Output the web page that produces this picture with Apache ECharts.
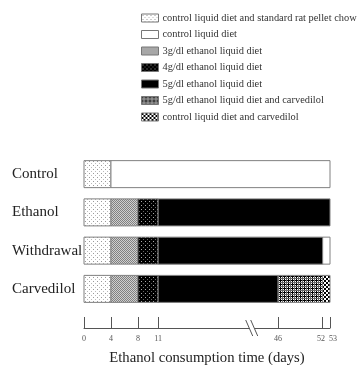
<!DOCTYPE html>
<html>
<head>
<meta charset="utf-8">
<script src="https://cdn.jsdelivr.net/npm/echarts@6/dist/echarts.min.js"></script>
<style>html,body{margin:0;padding:0;background:#fff}#c{width:357px;height:365px}</style>
</head>
<body>
<div id="c"></div>
<script>
// ---- data ----
const rows = ['Control', 'Ethanol', 'Withdrawal', 'Carvedilol'];
const treatments = [
  'control liquid diet and standard rat pellet chow',
  'control liquid diet',
  '3g/dl ethanol liquid diet',
  '4g/dl ethanol liquid diet',
  '5g/dl ethanol liquid diet',
  '5g/dl ethanol liquid diet and carvedilol',
  'control liquid diet and carvedilol'
];
// segments: [row, startDay, endDay]
const chowSegments = [['Control', 0, 4], ['Ethanol', 0, 4], ['Withdrawal', 0, 4], ['Carvedilol', 0, 4]];
const controlSegments = [['Control', 4, 53], ['Withdrawal', 52, 53]];
const eth3Segments = [['Ethanol', 4, 8], ['Withdrawal', 4, 8], ['Carvedilol', 4, 8]];
const eth4Segments = [['Ethanol', 8, 11], ['Withdrawal', 8, 11], ['Carvedilol', 8, 11]];
const eth5Segments = [['Ethanol', 11, 53], ['Withdrawal', 11, 52], ['Carvedilol', 11, 46]];
const eth5CarvSegments = [['Carvedilol', 46, 52]];
const controlCarvSegments = [['Carvedilol', 52, 53]];
const tickDays = [0, 4, 8, 11, 46, 52, 53];
const breakStart = 11, breakEnd = 46;

// ---- broken axis scale ----
const GAP = 17.8;        // axis units used for the break
const POST_SCALE = 1.1;  // scale after the break
function toAxis(d) {
  if (d <= breakStart) return d;
  if (d >= breakEnd) return breakStart + GAP + (d - breakEnd) * POST_SCALE;
  return breakStart + (d - breakStart) / (breakEnd - breakStart) * GAP;
}
function fromAxis(v) {
  let best = tickDays[0], bd = Infinity;
  tickDays.forEach(d => { const dd = Math.abs(toAxis(d) - v); if (dd < bd) { bd = dd; best = d; } });
  return String(best);
}

// ---- patterns ----
function pattern(w, h, draw) {
  const c = document.createElement('canvas');
  c.width = w; c.height = h;
  const g = c.getContext('2d');
  draw(g);
  return { image: c, repeat: 'repeat' };
}
const fills = [
  pattern(4, 4, g => { g.fillStyle = '#fff'; g.fillRect(0,0,4,4); g.fillStyle = '#999'; g.fillRect(1,1,1,1); g.fillStyle='#bbb'; g.fillRect(3,3,1,1); }),
  '#ffffff',
  pattern(2, 2, g => { g.fillStyle = '#cfcfcf'; g.fillRect(0,0,2,2); g.fillStyle = '#808080'; g.fillRect(0,0,1,1); g.fillRect(1,1,1,1); }),
  pattern(4, 4, g => { g.fillStyle = '#000'; g.fillRect(0,0,4,4); g.fillStyle = '#aaa'; g.fillRect(1,1,1,1); g.fillStyle='#666'; g.fillRect(3,3,1,1); }),
  '#000000',
  pattern(4, 4, g => { g.fillStyle = '#fff'; g.fillRect(0,0,4,4); g.fillStyle = '#000'; g.fillRect(0,0,4,1); g.fillRect(0,0,1,4); g.fillStyle='#666'; g.fillRect(2,0,1,4); g.fillRect(0,2,4,1); }),
  pattern(4, 4, g => { g.fillStyle = '#fff'; g.fillRect(0,0,4,4); g.fillStyle = '#000'; g.fillRect(0,0,2,2); g.fillRect(2,2,2,2); })
];
const segmentSets = [chowSegments, controlSegments, eth3Segments, eth4Segments, eth5Segments, eth5CarvSegments, controlCarvSegments];

const BAR_H = 27;
const series = treatments.map((name, i) => ({
  name,
  type: 'custom',
  itemStyle: { color: fills[i], borderColor: '#777', borderWidth: 1 },
  encode: { x: [1, 2], y: 0 },
  data: segmentSets[i].map(s => [s[0], toAxis(s[1]), toAxis(s[2])]),
  renderItem: (params, api) => {
    const a = api.coord([api.value(1), api.value(0)]);
    const b = api.coord([api.value(2), api.value(0)]);
    return {
      type: 'rect',
      shape: { x: a[0], y: a[1] - BAR_H / 2, width: b[0] - a[0], height: BAR_H },
      style: { fill: fills[i], stroke: '#808080', lineWidth: 1 }
    };
  }
}));

// the tightly spaced "52" and "53" labels are drawn by twin axes so both show
const n = tickDays.length;
const mainTicks = tickDays.slice(0, n - 2).map(toAxis);
const tick52 = [toAxis(tickDays[n - 2])];
const tick53 = [toAxis(tickDays[n - 1])];
const allTicks = tickDays.map(toAxis);
const chart = echarts.init(document.getElementById('c'), null, { renderer: 'canvas' });
const GRID_BOTTOM_Y = 308, AXIS_OFFSET = 20;
const labelStyle = { margin: 7, fontSize: 8, color: '#555', fontFamily: 'Liberation Serif', formatter: fromAxis };
function twin(ticks, padding) {
  return {
    type: 'value', min: 0, max: toAxis(53), position: 'bottom',
    offset: AXIS_OFFSET, splitLine: { show: false },
    axisLine: { show: false }, axisTick: { show: false },
    axisLabel: Object.assign({ customValues: ticks, padding }, labelStyle)
  };
}
chart.setOption({
  animation: false,
  backgroundColor: '#fff',
  textStyle: { fontFamily: 'Liberation Serif' },
  legend: {
    orient: 'vertical', left: 141, top: 13, padding: 0,
    itemWidth: 17, itemHeight: 8, itemGap: 6.5,
    icon: 'rect',
    itemStyle: { borderColor: '#777', borderWidth: 1 },
    textStyle: { fontFamily: 'Liberation Serif', fontSize: 10.4, color: '#333', lineHeight: 10, padding: [0,0,0,-1] },
    data: treatments,
    selectedMode: false
  },
  grid: { left: 84, right: 27, top: 155, bottom: 365 - GRID_BOTTOM_Y, outerBoundsMode: 'none', containLabel: false },
  xAxis: [{
    type: 'value', min: 0, max: toAxis(53),
    offset: AXIS_OFFSET,
    splitLine: { show: false },
    axisLine: { show: true, lineStyle: { color: '#555', width: 1 } },
    axisTick: { show: true, inside: true, length: 11, customValues: allTicks, lineStyle: { color: '#555' } },
    axisLabel: Object.assign({ customValues: mainTicks }, labelStyle),
    name: 'Ethanol consumption time (days)',
    nameLocation: 'middle', nameGap: 23,
    nameTextStyle: { fontFamily: 'Liberation Serif', fontSize: 14.7, color: '#222' }
  }, twin(tick52, [0, 3, 0, 0]), twin(tick53, [0, 0, 0, 6])],
  yAxis: {
    type: 'category', data: rows, inverse: true,
    axisLine: { show: false }, axisTick: { show: false },
    axisLabel: { align: 'left', margin: 72, fontSize: 15, color: '#222', fontFamily: 'Liberation Serif' }
  },
  series
});

// break marker "//" on the axis line
const breakAxisPos = breakStart + GAP * 0.78;
const bx = chart.convertToPixel({ xAxisIndex: 0 }, breakAxisPos);
const by = GRID_BOTTOM_Y + AXIS_OFFSET;
chart.setOption({
  graphic: [
    { type: 'polygon', shape: { points: [[bx - 6, by - 8], [bx - 1, by - 8], [bx + 6, by + 8], [bx + 1, by + 8]] }, style: { fill: '#fff' }, z: 100 },
    { type: 'line', shape: { x1: bx - 6, y1: by - 8, x2: bx + 1, y2: by + 8 }, style: { stroke: '#555', lineWidth: 1 }, z: 101 },
    { type: 'line', shape: { x1: bx - 1, y1: by - 8, x2: bx + 6, y2: by + 8 }, style: { stroke: '#555', lineWidth: 1 }, z: 101 }
  ]
});
</script>
</body>
</html>
